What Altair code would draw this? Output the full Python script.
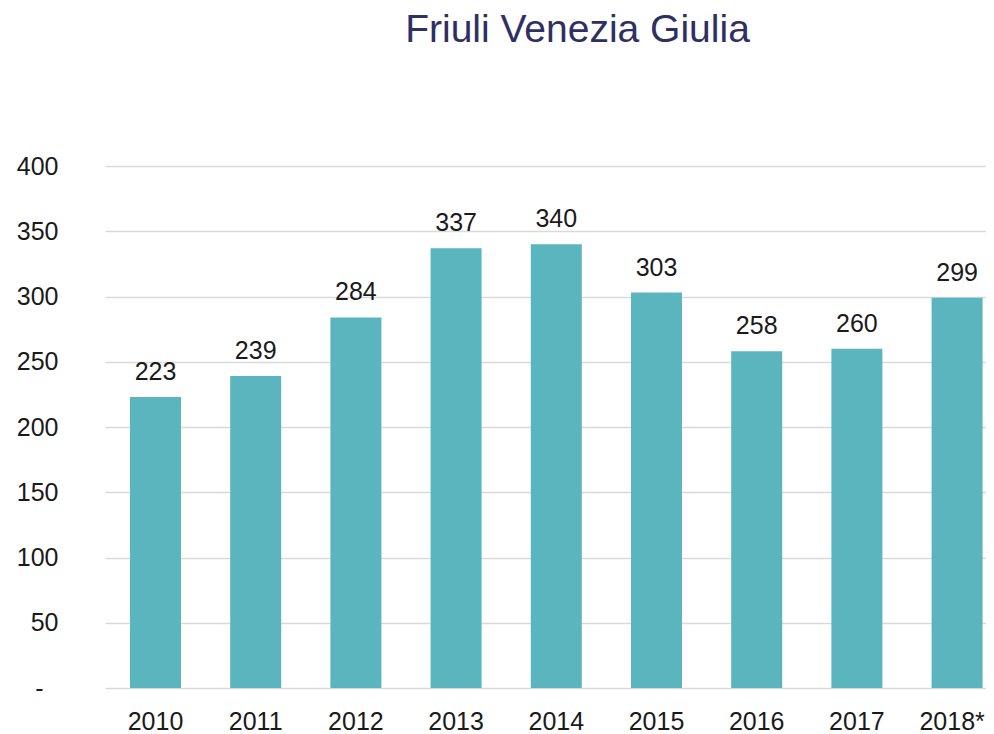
import altair as alt
import pandas as pd

years = ["2010", "2011", "2012", "2013", "2014", "2015", "2016", "2017", "2018*"]
values = [223, 239, 284, 337, 340, 303, 258, 260, 299]

df = pd.DataFrame({"year": years, "value": values})

FONT = "Liberation Sans"

x = alt.X("year:N", sort=years, title=None,
          scale=alt.Scale(paddingInner=0.491, paddingOuter=0.1417, align=0.88),
          axis=alt.Axis(labelAngle=0, domain=False, ticks=False, labelPadding=21,
                        labelOffset={"condition": {"test": "datum.value == '2018*'", "value": -5}, "value": 0},
                        labelFont=FONT, labelFontSize=25, labelColor="#1a1a1a"))
y = alt.Y("value:Q", title=None,
          scale=alt.Scale(domain=[0, 400], nice=False),
          axis=alt.Axis(values=[0, 50, 100, 150, 200, 250, 300, 350, 400],
                        labelExpr="datum.value == 0 ? '-' : datum.label",
                        domain=False, ticks=False,
                        labelPadding={"condition": {"test": "datum.value == 0", "value": 62}, "value": 47},
                        labelFont=FONT, labelFontSize=25, labelColor="#1a1a1a",
                        gridColor="#d9d9d9", gridWidth=1.5))

bars = alt.Chart(df).mark_bar(color="#5BB5BF").encode(x=x, y=y)
labels = alt.Chart(df).mark_text(font=FONT, fontSize=25, color="#1a1a1a",
                                 baseline="alphabetic", dy=-17).encode(
    x=alt.X("year:N", sort=years), y="value:Q", text="value:Q")

chart = (bars + labels).properties(
    width=881, height=522,
    title=alt.TitleParams("Friuli Venezia Giulia", font=FONT, fontSize=39,
                          fontWeight="normal", color="#2E3062", anchor="middle",
                          dx=32, offset=104),
    autosize=alt.AutoSizeParams(type="none"),
    padding={"left": 97, "top": 158, "right": 0, "bottom": 46},
).configure_view(stroke=None)

chart.save("out.html", embed_options={"renderer": "svg", "actions": False})
